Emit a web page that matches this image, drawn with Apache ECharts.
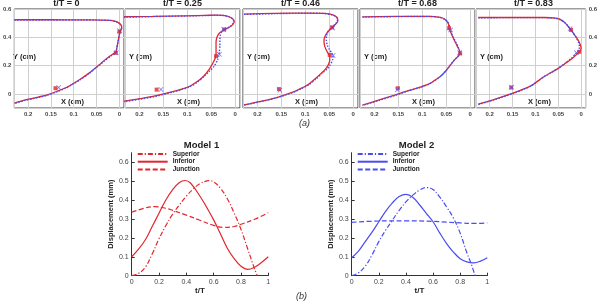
<!DOCTYPE html>
<html><head><meta charset="utf-8">
<script src="https://cdn.jsdelivr.net/npm/echarts@6/dist/echarts.min.js"></script>
<style>html,body{margin:0;padding:0;background:#fff}#c{width:600px;height:306px}</style>
</head><body><div id="c"></div>
<script>
// ---------- data: top row (profile shapes, x/y in cm) ----------
const panelTitles = ['t/T = 0', 't/T = 0.25', 't/T = 0.46', 't/T = 0.68', 't/T = 0.83'];

const p0Red = [[0.23,0.524],[0.15,0.524],[0.08,0.523],[0.04,0.522],[0.019,0.52],[0.008,0.512],[0.001,0.5],[-0.004,0.485],[-0.005,0.465],[-0.002,0.445],[0.0,0.42],[0.003,0.37],[0.006,0.32],[0.008,0.295],[0.015,0.28],[0.03,0.245],[0.046,0.2],[0.065,0.15],[0.085,0.105],[0.1,0.075],[0.116,0.045],[0.135,0.02],[0.158,-0.007],[0.185,-0.028],[0.206,-0.043],[0.23,-0.066]];
const p0Blue = [[0.23,0.522],[0.15,0.522],[0.08,0.522],[0.04,0.521],[0.019,0.519],[0.008,0.511],[0.001,0.5],[-0.004,0.484],[-0.005,0.465],[-0.002,0.445],[0.0,0.42],[0.003,0.37],[0.006,0.32],[0.008,0.292],[0.017,0.272],[0.033,0.232],[0.05,0.188],[0.068,0.14],[0.087,0.097],[0.102,0.068],[0.118,0.04],[0.135,0.017],[0.158,-0.01],[0.185,-0.031],[0.206,-0.046],[0.23,-0.069]];
const p0RedMarks = [[0.14,0.04],[0.0,0.44],[0.008,0.29]];
const p0BlueMarks = [[0.133,0.045],[0.0,0.447],[0.007,0.29]];

const p1Red = [[0.233,0.545],[0.172,0.548],[0.103,0.552],[0.06,0.555],[0.04,0.557],[0.025,0.555],[0.014,0.547],[0.006,0.532],[0.002,0.512],[0.004,0.495],[0.009,0.478],[0.016,0.465],[0.023,0.452],[0.031,0.435],[0.036,0.415],[0.039,0.39],[0.04,0.36],[0.04,0.32],[0.04,0.28],[0.042,0.25],[0.047,0.215],[0.054,0.175],[0.066,0.125],[0.08,0.085],[0.096,0.052],[0.115,0.03],[0.131,0.016],[0.172,-0.018],[0.233,-0.052]];
const p1Blue = [[0.233,0.542],[0.172,0.546],[0.103,0.551],[0.06,0.554],[0.04,0.556],[0.025,0.554],[0.014,0.546],[0.006,0.531],[0.003,0.512],[0.005,0.494],[0.01,0.477],[0.017,0.464],[0.023,0.455],[0.028,0.44],[0.031,0.415],[0.032,0.38],[0.032,0.34],[0.033,0.3],[0.034,0.27],[0.037,0.24],[0.044,0.195],[0.054,0.16],[0.066,0.12],[0.08,0.08],[0.096,0.048],[0.115,0.027],[0.131,0.012],[0.172,-0.022],[0.233,-0.056]];
const p1RedMarks = [[0.164,0.03],[0.023,0.455],[0.04,0.267]];
const p1BlueMarks = [[0.155,0.03],[0.024,0.457],[0.033,0.28]];

const p2Red = [[0.228,0.564],[0.164,0.569],[0.094,0.571],[0.06,0.569],[0.042,0.558],[0.034,0.54],[0.032,0.515],[0.036,0.495],[0.044,0.47],[0.05,0.45],[0.055,0.43],[0.059,0.405],[0.061,0.375],[0.06,0.345],[0.057,0.315],[0.053,0.29],[0.049,0.27],[0.049,0.24],[0.052,0.205],[0.058,0.175],[0.067,0.145],[0.08,0.105],[0.094,0.066],[0.108,0.04],[0.122,0.018],[0.164,-0.03],[0.228,-0.078]];
const p2Blue = [[0.228,0.562],[0.164,0.567],[0.094,0.57],[0.06,0.568],[0.042,0.557],[0.034,0.54],[0.033,0.515],[0.037,0.495],[0.045,0.47],[0.051,0.45],[0.054,0.43],[0.056,0.405],[0.056,0.375],[0.054,0.345],[0.05,0.315],[0.045,0.29],[0.042,0.27],[0.043,0.24],[0.048,0.205],[0.055,0.175],[0.065,0.145],[0.078,0.105],[0.093,0.063],[0.108,0.037],[0.122,0.015],[0.164,-0.032],[0.228,-0.08]];
const p2RedMarks = [[0.155,0.034],[0.044,0.47],[0.049,0.275]];
const p2BlueMarks = [[0.153,0.026],[0.043,0.466],[0.042,0.272]];

const p3Red = [[0.225,0.545],[0.156,0.548],[0.086,0.548],[0.062,0.54],[0.053,0.527],[0.048,0.51],[0.045,0.49],[0.044,0.464],[0.04,0.43],[0.036,0.398],[0.031,0.365],[0.026,0.33],[0.022,0.3],[0.022,0.282],[0.027,0.26],[0.034,0.235],[0.042,0.2],[0.05,0.165],[0.06,0.13],[0.072,0.1],[0.085,0.072],[0.104,0.048],[0.128,0.024],[0.156,-0.007],[0.19,-0.043],[0.225,-0.079]];
const p3Blue = [[0.225,0.543],[0.156,0.546],[0.086,0.547],[0.062,0.539],[0.053,0.526],[0.047,0.508],[0.044,0.488],[0.042,0.462],[0.039,0.43],[0.035,0.398],[0.03,0.365],[0.025,0.33],[0.022,0.3],[0.022,0.282],[0.028,0.258],[0.035,0.232],[0.043,0.197],[0.051,0.162],[0.061,0.127],[0.073,0.097],[0.086,0.069],[0.105,0.045],[0.129,0.021],[0.156,-0.01],[0.19,-0.046],[0.225,-0.082]];
const p3RedMarks = [[0.151,0.04],[0.044,0.464],[0.021,0.286]];
const p3BlueMarks = [[0.152,0.029],[0.041,0.452],[0.022,0.29]];

const p4Red = [[0.225,0.54],[0.149,0.54],[0.08,0.54],[0.056,0.536],[0.045,0.525],[0.036,0.505],[0.029,0.48],[0.022,0.452],[0.016,0.425],[0.01,0.398],[0.004,0.365],[0.001,0.34],[0.0,0.325],[0.002,0.305],[0.006,0.29],[0.017,0.257],[0.03,0.225],[0.05,0.18],[0.08,0.124],[0.095,0.09],[0.108,0.06],[0.125,0.035],[0.149,0.005],[0.191,-0.04],[0.225,-0.072]];
const p4Blue = [[0.225,0.538],[0.149,0.539],[0.08,0.539],[0.056,0.535],[0.045,0.524],[0.036,0.505],[0.029,0.481],[0.023,0.455],[0.017,0.428],[0.011,0.4],[0.006,0.367],[0.004,0.34],[0.004,0.322],[0.007,0.302],[0.011,0.287],[0.02,0.256],[0.033,0.222],[0.052,0.177],[0.081,0.121],[0.096,0.087],[0.109,0.057],[0.126,0.032],[0.149,0.002],[0.191,-0.043],[0.225,-0.075]];
const p4RedMarks = [[0.153,0.045],[0.022,0.452],[0.004,0.297]];
const p4BlueMarks = [[0.152,0.046],[0.024,0.46],[0.01,0.29]];

const redShapes = [p0Red, p1Red, p2Red, p3Red, p4Red];
const blueShapes = [p0Blue, p1Blue, p2Blue, p3Blue, p4Blue];
const redMarks = [p0RedMarks, p1RedMarks, p2RedMarks, p3RedMarks, p4RedMarks];
const blueMarks = [p0BlueMarks, p1BlueMarks, p2BlueMarks, p3BlueMarks, p4BlueMarks];

// ---------- data: bottom row (displacement in mm vs t/T) ----------
const legendNames = ['Superior', 'Inferior', 'Junction'];
const m1Superior = [[0,0],[0.05,0.012],[0.1,0.045],[0.15,0.115],[0.2,0.195],[0.25,0.265],[0.3,0.325],[0.35,0.375],[0.4,0.42],[0.45,0.458],[0.5,0.487],[0.55,0.501],[0.57,0.503],[0.6,0.496],[0.65,0.462],[0.7,0.407],[0.75,0.332],[0.8,0.245],[0.85,0.14],[0.9,0.035],[0.92,0]];
const m1Inferior = [[0,0.1],[0.05,0.14],[0.1,0.19],[0.15,0.26],[0.2,0.33],[0.25,0.4],[0.3,0.455],[0.35,0.493],[0.39,0.503],[0.43,0.49],[0.5,0.42],[0.55,0.36],[0.6,0.295],[0.65,0.22],[0.7,0.145],[0.75,0.09],[0.8,0.05],[0.85,0.033],[0.9,0.045],[0.95,0.07],[1,0.1]];
const m1Junction = [[0,0.335],[0.1,0.358],[0.17,0.365],[0.25,0.356],[0.3,0.345],[0.4,0.32],[0.5,0.293],[0.6,0.266],[0.67,0.255],[0.75,0.26],[0.8,0.272],[0.9,0.298],[1,0.333]];
const m2Superior = [[0,0],[0.05,0.015],[0.1,0.05],[0.15,0.11],[0.2,0.18],[0.25,0.24],[0.3,0.293],[0.35,0.345],[0.4,0.39],[0.45,0.425],[0.5,0.452],[0.55,0.466],[0.6,0.455],[0.65,0.415],[0.7,0.363],[0.75,0.305],[0.8,0.225],[0.85,0.12],[0.88,0.065],[0.91,0]];
const m2Inferior = [[0,0.095],[0.05,0.13],[0.1,0.18],[0.15,0.23],[0.2,0.285],[0.25,0.34],[0.3,0.385],[0.35,0.418],[0.4,0.43],[0.45,0.415],[0.5,0.375],[0.55,0.33],[0.6,0.285],[0.65,0.225],[0.7,0.17],[0.75,0.125],[0.8,0.09],[0.85,0.073],[0.9,0.068],[0.95,0.077],[1,0.095]];
const m2Junction = [[0,0.282],[0.2,0.289],[0.4,0.29],[0.6,0.287],[0.8,0.279],[0.9,0.276],[1,0.279]];

// ---------- styling / layout ----------
const RED = '#e3262e', BLUE = '#4a4cf2';
const FONT = 'Liberation Sans, Arial, sans-serif';
const panelLeft = [9, 125, 243, 360, 476];
const panelW = 115, panelTop = 9, panelH = 99;
const X_SYM = 'path://M0,1L1,0L5,4L9,0L10,1L6,5L10,9L9,10L5,6L1,10L0,9L4,5Z';

const grids = [], xAxes = [], yAxes = [], series = [], titles = [], graphics = [];
for (let i = 0; i < 5; i++) {
  grids.push({left: panelLeft[i], top: panelTop, width: panelW, height: panelH, show: true, borderColor: '#3a3a3a', borderWidth: 1});
  xAxes.push({gridIndex: i, type: 'value', inverse: true, min: -0.01, max: 0.23, splitNumber: 5,
    axisLine: {show: false}, axisTick: {show: false},
    axisLabel: {fontSize: 6, color: '#444', margin: 3, showMinLabel: false, showMaxLabel: false, fontFamily: FONT, fontWeight: 'bold'},
    splitLine: {show: true, lineStyle: {color: '#cfcfcf', width: 1}}});
  const showY = (i === 0 || i === 4);
  yAxes.push({gridIndex: i, type: 'value', min: -0.1, max: 0.6, splitNumber: 4, position: i === 4 ? 'right' : 'left',
    axisLine: {show: false}, axisTick: {show: false},
    axisLabel: {show: showY, fontSize: 6, color: '#444', margin: 3, showMinLabel: false, fontFamily: FONT, fontWeight: 'bold'},
    splitLine: {show: true, lineStyle: {color: '#cfcfcf', width: 1}}});
  series.push({type: 'line', xAxisIndex: i, yAxisIndex: i, data: redShapes[i], symbol: 'none', smooth: 0.25,
    lineStyle: {color: RED, width: 1.3}, z: 2, silent: true});
  series.push({type: 'line', xAxisIndex: i, yAxisIndex: i, data: blueShapes[i], symbol: 'none', smooth: 0.25,
    lineStyle: {color: BLUE, width: 1.4, type: [1.5, 1.5]}, z: 3, silent: true});
  series.push({type: 'scatter', xAxisIndex: i, yAxisIndex: i, data: redMarks[i], symbol: 'rect', symbolSize: 4,
    itemStyle: {color: RED}, z: 4, silent: true});
  series.push({type: 'scatter', xAxisIndex: i, yAxisIndex: i, data: blueMarks[i], symbol: X_SYM, symbolSize: 5,
    itemStyle: {color: BLUE}, z: 5, silent: true});
  titles.push({text: panelTitles[i], left: panelLeft[i] + panelW / 2, top: -1, textAlign: 'center', padding: 0,
    textStyle: {fontSize: 9, fontWeight: 'bold', color: '#222', fontFamily: FONT}});
  graphics.push({type: 'text', left: panelLeft[i] + 4, top: 53, style: {text: 'Y (cm)', fontSize: 7.5, fontWeight: 'bold', fill: '#222', fontFamily: FONT}});
  graphics.push({type: 'text', left: panelLeft[i] + 52, top: 98, style: {text: 'X (cm)', fontSize: 7.5, fontWeight: 'bold', fill: '#222', fontFamily: FONT}});
}

// bottom charts
const bottomLeft = [131.7, 351.7], bottomW = [136.6, 135.6];
const bottomCols = [RED, BLUE];
const bottomData = [[m1Superior, m1Inferior, m1Junction], [m2Superior, m2Inferior, m2Junction]];
const dashTypes = [[5, 2, 1.2, 2], 'solid', [5, 2.5]];
const modelTitles = ['Model 1', 'Model 2'];
const legends = [];
for (let k = 0; k < 2; k++) {
  const gi = 5 + k;
  grids.push({left: bottomLeft[k], top: 152.7, width: bottomW[k], height: 123, show: false});
  xAxes.push({gridIndex: gi, type: 'value', min: 0, max: 1, interval: 0.2,
    name: 't/T', nameLocation: 'middle', nameGap: 7,
    nameTextStyle: {fontSize: 8, fontWeight: 'bold', color: '#222', fontFamily: FONT},
    axisLine: {show: true, lineStyle: {color: '#333', width: 1}},
    axisTick: {show: true, inside: true, length: 3, lineStyle: {color: '#333'}},
    axisLabel: {fontSize: 7, color: '#444', margin: 3, fontFamily: FONT},
    splitLine: {show: false}});
  yAxes.push({gridIndex: gi, type: 'value', min: 0, max: 0.65, interval: 0.1,
    name: 'Displacement (mm)', nameLocation: 'middle', nameGap: 13,
    nameTextStyle: {fontSize: 7.5, fontWeight: 'bold', color: '#222', fontFamily: FONT},
    axisLine: {show: true, lineStyle: {color: '#333', width: 1}},
    axisTick: {show: true, inside: true, length: 3, lineStyle: {color: '#333'}},
    axisLabel: {fontSize: 7, color: '#444', margin: 3, showMaxLabel: false, fontFamily: FONT},
    splitLine: {show: false}});
  const names = [];
  for (let s = 0; s < 3; s++) {
    const nm = legendNames[s] + (k === 1 ? ' (Model 2)' : '');
    names.push(nm);
    series.push({type: 'line', name: nm, xAxisIndex: gi, yAxisIndex: gi, data: bottomData[k][s], symbol: 'none', smooth: 0.4,
      lineStyle: {color: bottomCols[k], width: 1.2, type: dashTypes[s]}, itemStyle: {color: bottomCols[k]}, silent: true, z: 3});
  }
  legends.push({data: names, orient: 'vertical', left: k === 0 ? 136.7 : 356.7, top: 150.5,
    itemWidth: 30, itemHeight: 7, itemGap: 0.7, selectedMode: false, padding: 0,
    itemStyle: {opacity: 0},
    formatter: n => n.replace(' (Model 2)', ''),
    textStyle: {fontSize: 6.5, fontWeight: 'bold', color: '#222', fontFamily: FONT, lineHeight: 7}});
  titles.push({text: modelTitles[k], left: k === 0 ? 201.5 : 416.5, top: 140, textAlign: 'center', padding: 0,
    textStyle: {fontSize: 9.5, fontWeight: 'bold', color: '#222', fontFamily: FONT}});
}
graphics.push({type: 'text', left: 299, top: 119, style: {text: '(a)', fontSize: 9, fontStyle: 'italic', fill: '#333', fontFamily: FONT}});
graphics.push({type: 'text', left: 296, top: 292, style: {text: '(b)', fontSize: 9, fontStyle: 'italic', fill: '#333', fontFamily: FONT}});

const chart = echarts.init(document.getElementById('c'), null, {renderer: 'canvas'});
chart.setOption({
  animation: false,
  backgroundColor: '#fff',
  textStyle: {fontFamily: FONT},
  title: titles,
  legend: legends,
  grid: grids,
  xAxis: xAxes,
  yAxis: yAxes,
  series: series,
  graphic: graphics
});
</script></body></html>
